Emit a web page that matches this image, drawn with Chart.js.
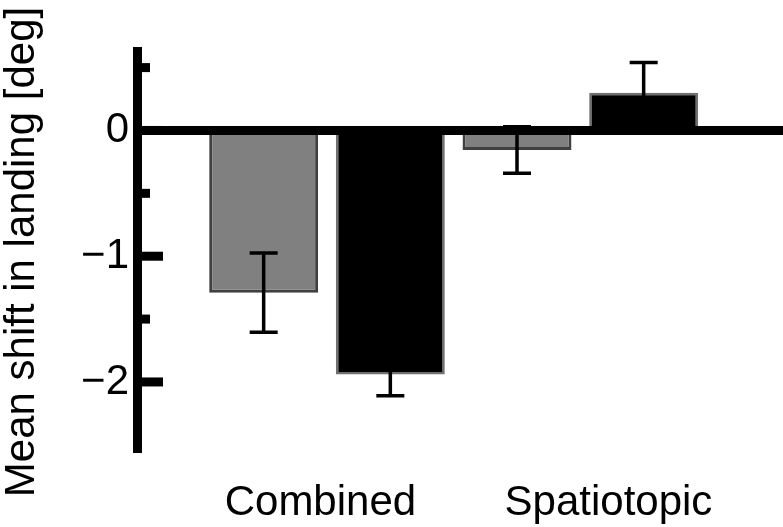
<!DOCTYPE html>
<html>
<head>
<meta charset="utf-8">
<script src="https://cdn.jsdelivr.net/npm/chart.js@4/dist/chart.umd.min.js"></script>
<style>
  html, body { margin: 0; padding: 0; background: #fff; }
  canvas { display: block; }
</style>
</head>
<body>
<canvas id="landingChart" width="783" height="527"></canvas>
<script>
// two groups, two conditions (gray / black)
const categories = ['Combined', 'Spatiotopic'];
const groupX = [1, 2];
const grayMeans = [-1.29, -0.155];
const grayErrs = [0.315, 0.185];
const blackMeans = [-1.94, 0.30];
const blackErrs = [0.17, 0.24];
const yTickValues = [-2, -1.5, -1, -0.5, 0, 0.5];

// where the category labels sit (they are not centred on the groups)
const labelX = [0.974, 2.111];

const FONT = '"Liberation Sans", Arial, Helvetica, sans-serif';

const errorBars = {
    id: 'errorBars',
    afterDatasetsDraw(chart) {
        const ctx = chart.ctx;
        const y = chart.scales.y;
        const area = chart.chartArea;
        ctx.save();
        ctx.strokeStyle = '#000';

        // thick zero line
        ctx.lineWidth = 9;
        ctx.beginPath();
        ctx.moveTo(area.left, y.getPixelForValue(0));
        ctx.lineTo(area.right, y.getPixelForValue(0));
        ctx.stroke();

        // inward ticks on the y axis
        y.ticks.forEach(t => {
            const len = Number.isInteger(t.value) ? 25.5 : 12.5;
            const py = y.getPixelForValue(t.value);
            ctx.beginPath();
            ctx.moveTo(area.left, py);
            ctx.lineTo(area.left + len, py);
            ctx.stroke();
        });

        // error bars
        ctx.lineWidth = 3.5;
        chart.data.datasets.forEach((ds, i) => {
            const meta = chart.getDatasetMeta(i);
            meta.data.forEach((bar, j) => {
                const m = ds.data[j].y;
                const e = ds.errors[j];
                const top = y.getPixelForValue(m + e);
                const bot = y.getPixelForValue(m - e);
                ctx.beginPath();
                ctx.moveTo(bar.x, top);
                ctx.lineTo(bar.x, bot);
                ctx.moveTo(bar.x - 14, top);
                ctx.lineTo(bar.x + 14, top);
                ctx.moveTo(bar.x - 14, bot);
                ctx.lineTo(bar.x + 14, bot);
                ctx.stroke();
            });
        });
        ctx.restore();
    }
};

const ctx = document.getElementById('landingChart').getContext('2d');

const landingChart = new Chart(ctx, {
    type: 'bar',
    data: {
        datasets: [{
            label: 'gray',
            data: groupX.map((x, i) => ({ x: x, y: grayMeans[i] })),
            errors: grayErrs,
            backgroundColor: '#808080',
            borderColor: '#404040',
            borderWidth: 3,
            categoryPercentage: 1.0,
            barPercentage: 0.86
        }, {
            label: 'black',
            data: groupX.map((x, i) => ({ x: x, y: blackMeans[i] })),
            errors: blackErrs,
            backgroundColor: '#000000',
            borderColor: '#707070',
            borderWidth: 2.5,
            categoryPercentage: 1.0,
            barPercentage: 0.86
        }]
    },
    options: {
        responsive: false,
        animation: false,
        layout: {
            padding: { top: 51.5, right: 0, bottom: 0, left: 0 }
        },
        scales: {
            x: {
                type: 'linear',
                offset: false,
                min: 0.252,
                max: 2.8,
                grid: { display: false, drawTicks: false },
                border: { display: false },
                afterBuildTicks: scale => {
                    scale.ticks = labelX.map(v => ({ value: v }));
                },
                afterFit: scale => { scale.height = 74.5; },
                ticks: {
                    autoSkip: false,
                    maxRotation: 0,
                    padding: 25.5,
                    color: '#000',
                    font: { family: FONT, size: 42 },
                    callback: (v, i) => categories[i]
                }
            },
            y: {
                min: -2.561,
                max: 0.628,
                grid: { display: false, drawTicks: false },
                border: { display: true, color: '#000', width: 9 },
                afterBuildTicks: scale => {
                    scale.ticks = yTickValues.map(v => ({ value: v }));
                },
                afterFit: scale => { scale.width = 137.5; },
                ticks: {
                    padding: 8.5,
                    color: '#000',
                    font: { family: FONT, size: 42 },
                    callback: v => Number.isInteger(v) ? (v < 0 ? '\u2212' + (-v) : String(v)) : ''
                },
                title: {
                    display: true,
                    text: 'Mean shift in landing [deg]',
                    color: '#000',
                    padding: { top: 1, bottom: 0 },
                    font: { family: FONT, size: 42, lineHeight: 1 }
                }
            }
        },
        plugins: {
            legend: { display: false },
            tooltip: { enabled: false }
        }
    },
    plugins: [errorBars]
});
</script>
</body>
</html>
